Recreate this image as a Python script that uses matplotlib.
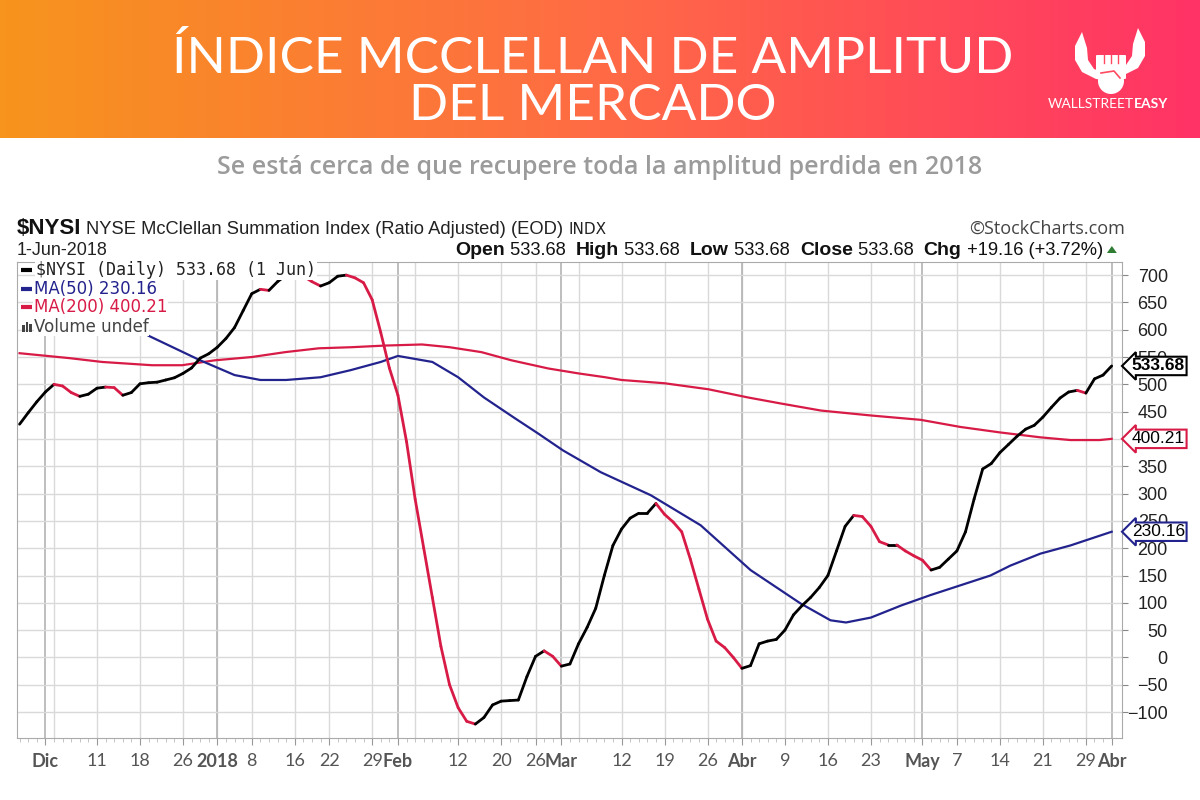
import matplotlib
matplotlib.use("Agg")
import matplotlib.pyplot as plt
import numpy as np
import pandas as pd
from matplotlib.collections import LineCollection
from matplotlib.colors import LinearSegmentedColormap
from matplotlib.patches import Polygon, FancyBboxPatch, Circle, Rectangle
import matplotlib.transforms as mtransforms

# ---- data -------------------------------------------------------------
holidays = ["2017-12-25", "2018-01-01", "2018-01-15", "2018-02-19",
            "2018-03-30", "2018-05-28"]
dates = pd.bdate_range("2017-11-28", "2018-06-01", freq="C", holidays=holidays)

nysi = [427, 448, 468, 486, 500, 497, 485, 478, 482, 493,
        495, 494, 480, 485, 501, 503, 504, 508, 512, 520,
        530, 548, 556, 568, 584, 604, 635, 666, 674, 672,
        688, 700, 705, 698, 688, 680, 686, 698, 700, 695,
        686, 655, 595, 530, 480, 395, 290, 200, 110, 20,
        -50, -92, -117, -122, -110, -87, -80, -79, -78, -35,
        2, 12, 2, -16, -12, 25, 55, 90, 150, 205,
        235, 255, 264, 264, 282, 262, 248, 230, 180, 125,
        70, 30, 18, 0, -20, -15, 25, 30, 33, 50,
        78, 95, 110, 128, 150, 195, 240, 260, 258, 240,
        212, 206, 206, 195, 186, 178, 160, 165, 180, 195,
        230, 290, 345, 355, 375, 390, 405, 418, 425, 440,
        458, 475, 486, 489, 484, 510, 517, 533.68]

ma50_day = [15, 21, 25, 28, 31, 35, 38.5, 42, 44, 48, 51, 54, 57.5, 60.3, 63.2,
            67.6, 73.4, 79.2, 85, 90.8, 94.3, 96.1, 99, 102.5, 105.9, 109.4,
            112.9, 115.2, 118.7, 122.2, 127]
ma50_val = [589, 544, 517, 508, 508, 513, 526, 541, 552, 541, 513, 476, 439, 410, 379,
            339, 297, 242, 160, 99, 68, 64, 73, 95, 114, 132,
            150, 168, 190, 205, 230.16]

ma200_day = [0, 5.8, 9.6, 15.4, 18.9, 22.7, 27, 30.9, 34.8, 38.6, 42.5, 46.8, 50,
             53.7, 57.2, 61.5, 65, 68.1, 70, 75, 80.1, 84.7, 88.5, 93.2, 99,
             104.8, 109.4, 114, 118.7, 122.2, 125.6, 127]
ma200_val = [557, 548, 541, 535, 535, 544, 550, 559, 566, 568, 571, 573, 568,
             559, 544, 529, 520, 513, 508, 502, 491, 476, 465, 452, 443,
             435, 422, 412, 403, 398, 398, 400.21]

tick_dates = ["2017-12-01", "2017-12-11", "2017-12-18", "2017-12-26", "2018-01-02",
              "2018-01-08", "2018-01-16", "2018-01-22", "2018-01-29", "2018-02-01",
              "2018-02-12", "2018-02-20", "2018-02-26", "2018-03-01", "2018-03-12",
              "2018-03-19", "2018-03-26", "2018-04-02", "2018-04-09", "2018-04-16",
              "2018-04-23", "2018-05-01", "2018-05-07", "2018-05-14", "2018-05-21",
              "2018-05-29", "2018-06-01"]
tick_labels = ["Dic", "11", "18", "26", "2018", "8", "16", "22", "29", "Feb",
               "12", "20", "26", "Mar", "12", "19", "26", "Abr", "9", "16",
               "23", "May", "7", "14", "21", "29", "Abr"]
month_labels = {"Dic", "2018", "Feb", "Mar", "Abr", "May"}

UP = "#000000"
DOWN = "#d81b46"
BLUE = "#23238e"

fig = plt.figure(figsize=(12, 8), dpi=100)

# ---- header gradient ----------------------------------------------------
hdr = fig.add_axes([0, 1 - 138 / 800, 1, 138 / 800])
cmap = LinearSegmentedColormap.from_list("hdr", ["#f7941d", "#ff6b45", "#ff3366"])
hdr.imshow(np.linspace(0, 1, 600).reshape(1, -1), aspect="auto", cmap=cmap,
           extent=[0, 1, 0, 1])
hdr.axis("off")

# ---- main chart ---------------------------------------------------------
ax = fig.add_axes([17 / 1200, 1 - 738 / 800, (1122 - 17) / 1200, (738 - 262) / 800])
ax.set_xlim(-0.3, 128.2)
ax.set_ylim(-147.5, 724)

days = np.arange(len(dates))
week_start = [i for i in range(1, len(dates))
              if dates[i].isocalendar()[1] != dates[i - 1].isocalendar()[1]]
month_start = [i for i in range(1, len(dates)) if dates[i].month != dates[i - 1].month]

for i in week_start:
    ax.axvline(i, color="#d9d9d9", lw=1, zorder=0)
for i in month_start:
    ax.axvline(i, color="#b3b3b3", lw=1.2, zorder=0)
ax.set_yticks(np.arange(-100, 701, 50))
ax.yaxis.grid(True, color="#d9d9d9", lw=1, zorder=0)
ax.set_axisbelow(True)

pts = np.column_stack([days, nysi])
segs = np.stack([pts[:-1], pts[1:]], axis=1)
cols = [UP if b >= a else DOWN for a, b in zip(nysi[:-1], nysi[1:])]
ax.add_collection(LineCollection(segs, colors=cols, linewidths=2.0,
                                 capstyle="round", joinstyle="round", zorder=4))
ax.plot(ma200_day, ma200_val, color=DOWN, lw=1.6, zorder=3)
ax.plot(ma50_day, ma50_val, color=BLUE, lw=1.6, zorder=3)

for s in ax.spines.values():
    s.set_color("#aaaaaa")

pos = [dates.get_loc(pd.Timestamp(t)) for t in tick_dates]
ax.set_xticks(pos)
ax.set_xticklabels(tick_labels)
ax.set_xticks(days, minor=True)
ax.tick_params(axis="x", which="major", length=5, color="#999999", pad=6,
               labelsize=13, labelcolor="#555555")
ax.tick_params(axis="x", which="minor", length=3, color="#bbbbbb")
for lab in ax.get_xticklabels():
    lab.set_fontfamily("Lato")
    if lab.get_text() in month_labels:
        lab.set_fontweight("bold")

ax.yaxis.tick_right()
ax.tick_params(axis="y", length=4, color="#888888", pad=29, labelsize=13,
               labelcolor="#222222")
for lab in ax.get_yticklabels():
    lab.set_horizontalalignment("right")
    lab.set_fontfamily("Liberation Sans")

blend = mtransforms.blended_transform_factory(ax.transAxes, ax.transData)
for val, txt, col, w in [(nysi[-1], "533.68", "#000000", "bold"),
                         (ma200_val[-1], "400.21", DOWN, "normal"),
                         (ma50_val[-1], "230.16", BLUE, "normal")]:
    ax.annotate(txt, xy=(1.0, val), xycoords=blend, xytext=(7, 0),
                textcoords="offset points", ha="left", va="center",
                fontsize=12.5, fontweight=w, family="Liberation Sans",
                color="#000000", annotation_clip=False, zorder=10,
                bbox=dict(boxstyle="larrow,pad=0.1", fc="white", ec=col, lw=1.5))

# ---- overlay for texts in pixel coordinates -----------------------------
ov = fig.add_axes([0, 0, 1, 1], facecolor="none")
ov.set_xlim(0, 1200)
ov.set_ylim(800, 0)
ov.axis("off")
ov.set_zorder(5)

ov.text(593, 73, "ÍNDICE MCCLELLAN DE AMPLITUD", ha="center", va="baseline",
        color="white", fontsize=37, family="Lato", fontweight="normal")
ov.text(593, 120, "DEL MERCADO", ha="center", va="baseline",
        color="white", fontsize=37, family="Lato", fontweight="normal")
ov.text(600, 168, "Se está cerca de que recupere toda la amplitud perdida en 2018",
        ha="center", va="center", color="#9b9b9b", fontsize=18,
        family="Open Sans", fontweight="semibold")

# logo
horn_l = [(1082, 32), (1075, 46), (1075, 60), (1082, 72), (1096, 79), (1105, 80),
          (1105, 73), (1094, 69), (1088, 60), (1087, 48)]
horn_r = [(2220 - x, y - 4) for x, y in horn_l]
ov.add_patch(Polygon(horn_l, closed=True, fc="white", ec="none"))
ov.add_patch(Polygon(horn_r, closed=True, fc="white", ec="none"))
ov.add_patch(Circle((1111, 81), 13, fc="white", ec="none"))
ov.add_patch(FancyBboxPatch((1097, 56), 28, 22, boxstyle="round,pad=1",
                            fc="white", ec="none"))
for fx in (1104, 1111, 1118):
    ov.plot([fx, fx], [55, 63], color="#ff4a60", lw=1)
ov.plot([1101, 1114, 1120], [73, 71, 78], color="#ff4a60", lw=1.2)
ov.text(1134, 108, "WALLSTREET", ha="right", va="baseline", color="white",
        fontsize=10, family="Lato", fontweight="normal")
ov.text(1134, 108, "EASY", ha="left", va="baseline", color="white",
        fontsize=10, family="Lato", fontweight="bold")

# chart header lines
ov.text(17, 234, "$NYSI", ha="left", va="baseline", fontsize=16,
        fontweight="bold", family="Liberation Sans", color="#111111")
ov.text(86, 234, "NYSE McClellan Summation Index (Ratio Adjusted) (EOD)", ha="left",
        va="baseline", fontsize=13.2, family="Liberation Sans", color="#222222")
ov.text(568, 234, "INDX", ha="left", va="baseline", fontsize=11,
        family="DejaVu Sans", color="#222222")
ov.text(1125, 234, "©StockCharts.com", ha="right", va="baseline", fontsize=13,
        family="Open Sans", color="#444444")
ov.text(17, 255, "1-Jun-2018", ha="left", va="baseline", fontsize=13,
        family="Liberation Sans", color="#222222")

renderer = fig.canvas.get_renderer()
pieces = [("Open", "bold"), (" 533.68  ", "normal"), ("High", "bold"),
          (" 533.68  ", "normal"), ("Low", "bold"), (" 533.68  ", "normal"),
          ("Close", "bold"), (" 533.68  ", "normal"), ("Chg", "bold"),
          (" +19.16 (+3.72%)", "normal")]
x = 455
for txt, w in pieces:
    t = ov.text(x, 255, txt, ha="left", va="baseline",
                fontsize=14 if w == "bold" else 13.2,
                fontweight=w, family="Liberation Sans", color="#111111")
    x = t.get_window_extent(renderer).x1
ov.add_patch(Polygon([(x + 4, 253), (x + 14, 253), (x + 9, 246)], closed=True,
                     fc="#2e7d32", ec="none"))

# legend rows inside the plot
legend_rows = [("$NYSI (Daily) 533.68 (1 Jun)", UP, "#222222", "DejaVu Sans Mono", 12),
               ("MA(50) 230.16", BLUE, BLUE, "DejaVu Sans", 12),
               ("MA(200) 400.21", DOWN, DOWN, "DejaVu Sans", 12)]
for k, (txt, lc, tc, fam, fs) in enumerate(legend_rows):
    y = 270 + k * 18.7
    ov.plot([21, 32], [y, y], color=lc, lw=3, solid_capstyle="butt")
    ov.text(36 if k == 0 else 34, y, txt, ha="left", va="center", fontsize=fs,
            family=fam, color=tc, bbox=dict(fc="white", ec="none", pad=0.6))
y = 326.5
for bx, bh in zip((22, 25.5, 29), (7, 10, 8)):
    ov.add_patch(Rectangle((bx, y + 5 - bh), 2.5, bh, fc="#444444", ec="none"))
ov.text(34, y, "Volume undef", ha="left", va="center", fontsize=12,
        family="DejaVu Sans", color="#444444",
        bbox=dict(fc="white", ec="none", pad=0.3))

fig.savefig("out.png", dpi=100)
